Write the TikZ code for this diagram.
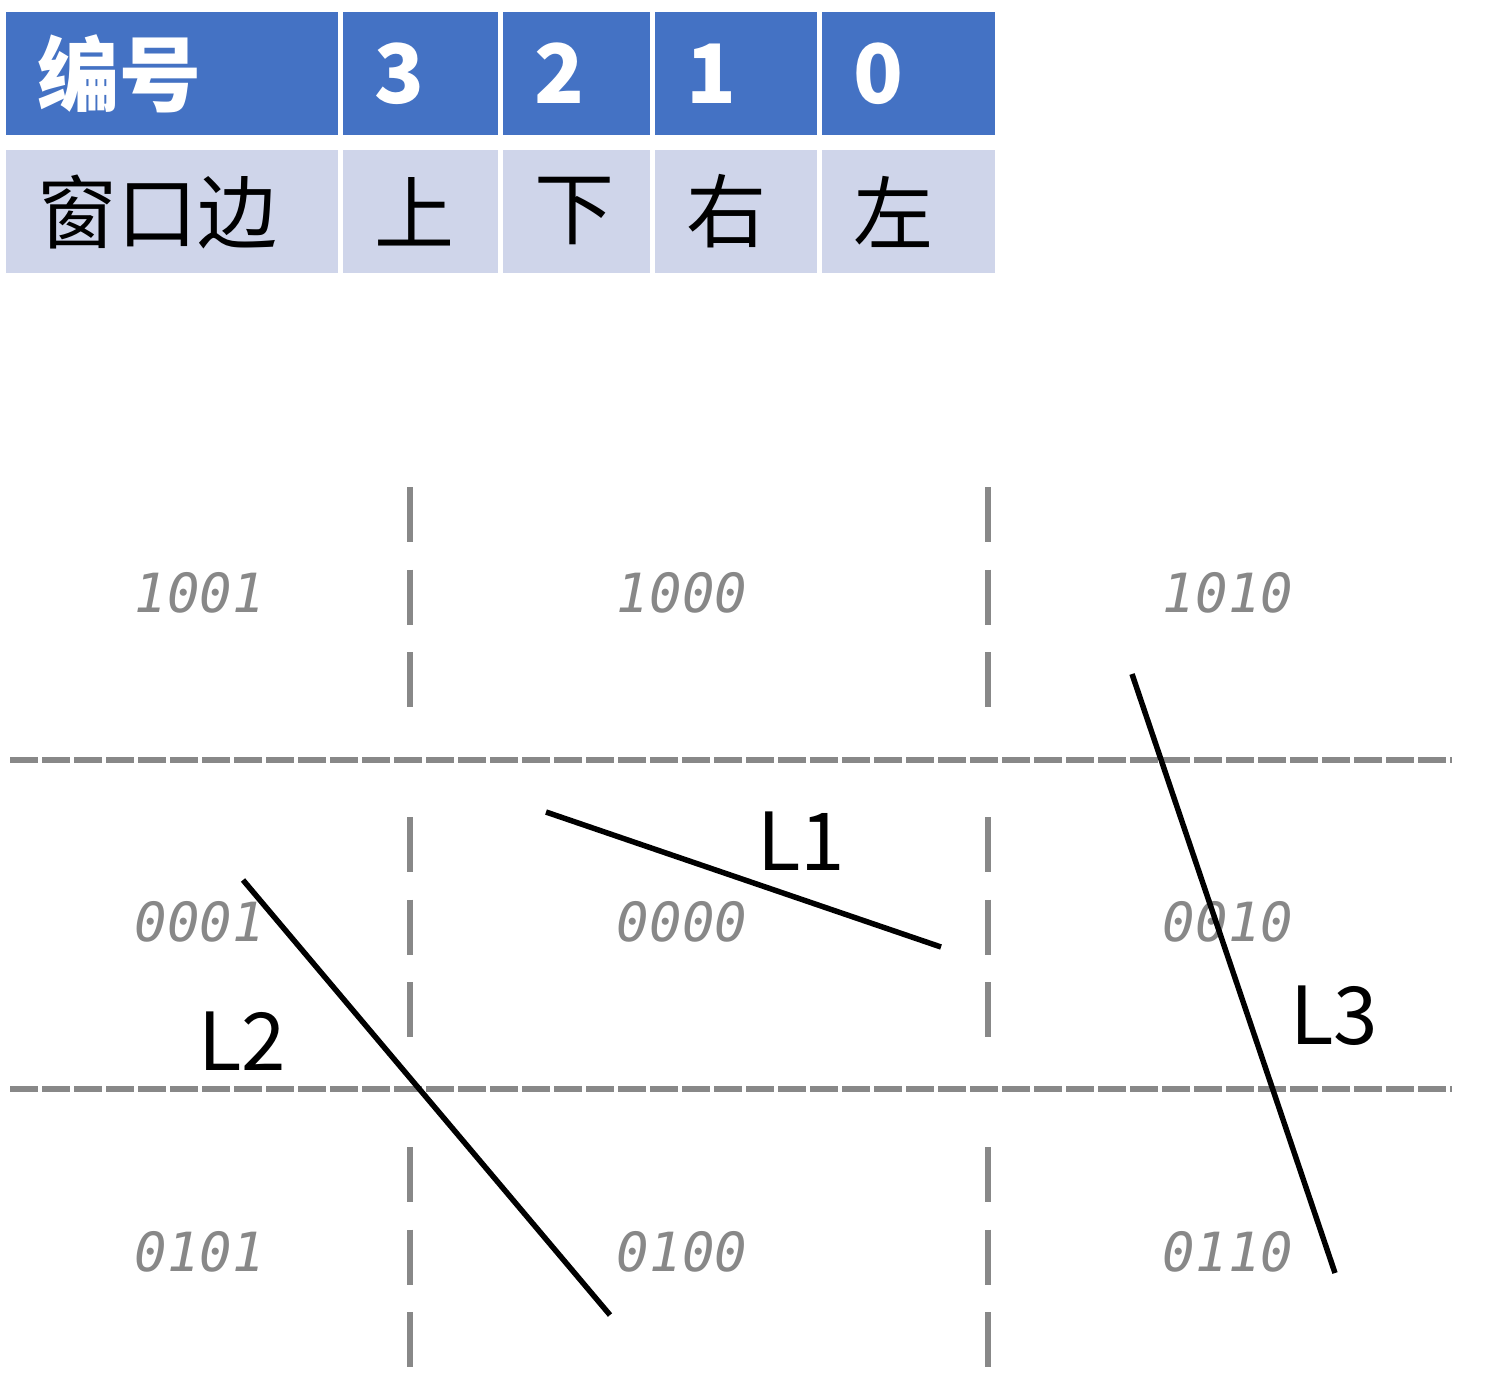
\documentclass[tikz,border=0pt]{standalone}
\usepackage{fontspec}
\setmainfont{Noto Sans CJK SC}
\newfontfamily\codefont{DejaVu Sans Mono}
\usepackage{tikz}
\usetikzlibrary{positioning}
\definecolor{headblue}{HTML}{4472C4}
\definecolor{edgeblue}{HTML}{CFD5EA}
\definecolor{gridgray}{HTML}{888888}

\begin{document}
\begin{tikzpicture}[
  x=1pt, y=-1pt,
  headcell/.style={rectangle, fill=headblue, minimum height=123pt, inner sep=0pt},
  edgecell/.style={rectangle, fill=edgeblue, minimum height=123pt, inner sep=0pt},
  headtext/.style={inner sep=0pt, text=white, font=\fontsize{82}{96}\selectfont\bfseries},
  edgetext/.style={inner sep=0pt, text=black, font=\fontsize{80}{96}\selectfont},
  codetext/.style={inner sep=0pt, text=gridgray, font=\codefont\itshape\fontsize{54}{60}\selectfont},
  gridrule/.style={draw=gridgray, line width=5.5pt, dash pattern=on 28pt off 4pt},
  gridbar/.style={draw=gridgray, line width=6pt},
  segline/.style={draw=black, line width=5.5pt},
  seglabel/.style={inner sep=0pt, font=\fontsize{80}{96}\selectfont}
]
  \useasboundingbox (0,0) rectangle (1485,1393);

  % code table
  \foreach \cx/\w/\txt [count=\i] in {172/332/编号, 420.5/155/3, 576.5/147/2, 736/162/1, 908.5/173/0} {
    \node[headcell, minimum width=\w pt] (head\i) at (\cx,73.5) {};
    \node[headtext, right=31pt of head\i.west] (headtxt\i) {\txt};
  }
  \foreach \cx/\w/\txt [count=\i] in {172/332/窗口边, 420.5/155/上, 576.5/147/下, 736/162/右, 908.5/173/左} {
    \node[edgecell, minimum width=\w pt] (edge\i) at (\cx,211.5) {};
    \node[edgetext, right=31pt of edge\i.west] (edgetxt\i) {\txt};
  }

  % window grid
  \draw[gridrule] (10,760) -- (1452,760);
  \draw[gridrule] (10,1089) -- (1452,1089);
  \foreach \x in {410,988}
    \foreach \k in {0,1,2,4,5,6,8,9,10}
      \draw[gridbar] (\x,{487+82.5*\k}) -- ++(0,55);

  \foreach \code/\x/\y in {1001/200/593, 1000/682/593, 1010/1228/593,
                           0001/200/922, 0000/682/922, 0010/1228/922,
                           0101/200/1252, 0100/682/1252, 0110/1228/1252}
    \node[codetext] (code\code) at (\x,\y) {\code};

  % segments
  \coordinate (l1a) at (546,812);  \coordinate (l1b) at (941,947);
  \coordinate (l2a) at (243,880);  \coordinate (l2b) at (610,1315);
  \coordinate (l3a) at (1132,674); \coordinate (l3b) at (1335,1273);
  \draw[segline] (l1a) -- (l1b);
  \draw[segline] (l2a) -- (l2b);
  \draw[segline] (l3a) -- (l3b);
  \node[seglabel] (l1) at (801,841) {L1};
  \node[seglabel] (l2) at (242,1041) {L2};
  \node[seglabel] (l3) at (1334,1016) {L3};
\end{tikzpicture}
\end{document}
